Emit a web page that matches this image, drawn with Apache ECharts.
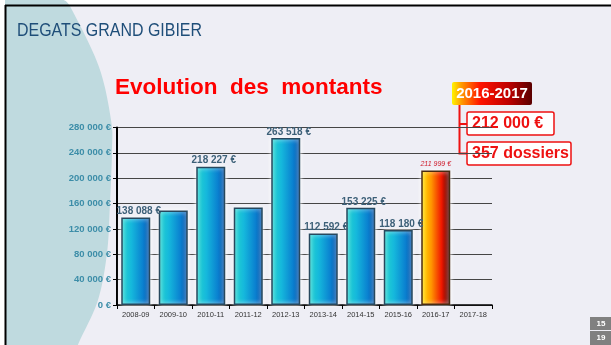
<!DOCTYPE html>
<html>
<head>
<meta charset="utf-8">
<script src="https://cdn.jsdelivr.net/npm/echarts@6/dist/echarts.min.js"></script>
<style>
  html, body { margin: 0; padding: 0; background: #ffffff; }
  #chart { width: 611px; height: 345px; }
</style>
</head>
<body>
<div id="chart"></div>
<script>
// Seasons and damage amounts (€)
const seasons = ['2008-09', '2009-10', '2010-11', '2011-12', '2012-13', '2013-14', '2014-15', '2015-16', '2016-17', '2017-18'];
const amounts = [138088, 149000, 218227, 154000, 263518, 112592, 153225, 118180, 211999, null];
const labelledSeasons = ['2008-09', '2010-11', '2012-13', '2013-14', '2014-15', '2015-16', '2016-17'];
const currentSeason = '2016-17';

// Y axis ticks (€)
const yTicks = [0, 40000, 80000, 120000, 160000, 200000, 240000, 280000];

// Callout texts
const slideTitle = 'DEGATS GRAND GIBIER';
const chartTitle = 'Evolution  des  montants';
const calloutTitle = '2016-2017';
const calloutLines = ['212 000 €', '357 dossiers'];
const pageNumbers = ['15', '19'];

function euro(v) {
  return String(v).replace(/\B(?=(\d{3})+(?!\d))/g, ' ') + ' €';
}

const blueFill = new echarts.graphic.LinearGradient(0, 0, 1, 0, [
  { offset: 0, color: '#25D6CE' },
  { offset: 0.35, color: '#15B8DC' },
  { offset: 0.75, color: '#0A80D0' },
  { offset: 1, color: '#004AA2' }
]);
const fireFill = new echarts.graphic.LinearGradient(0, 0, 1, 0, [
  { offset: 0, color: '#FFE600' },
  { offset: 0.35, color: '#FF9400' },
  { offset: 0.7, color: '#F01800' },
  { offset: 1, color: '#3A0000' }
]);

const barData = amounts.map(function (v, i) {
  const s = seasons[i];
  const isCurrent = s === currentSeason;
  const item = {
    value: v,
    itemStyle: { color: isCurrent ? fireFill : blueFill, borderColor: isCurrent ? '#4A2A10' : '#27485E' },
    label: { show: v !== null && labelledSeasons.indexOf(s) >= 0 }
  };
  if (isCurrent) {
    item.label.fontStyle = 'italic';
    item.label.fontWeight = 'normal';
    item.label.fontSize = 7;
    item.label.color = '#D0202E';
    item.label.distance = 3;
    item.label.offset = [0, 0];
  }
  return item;
});

// Left decorative band edge, traced with a Catmull-Rom spline
const edge = [[64, 0], [72, 10], [99, 67], [111, 120], [112, 150], [110, 203], [107, 253], [98, 300], [80, 340], [76, 350]];
function spline(pts) {
  const out = [];
  for (let i = 0; i < pts.length - 1; i++) {
    const p0 = pts[Math.max(0, i - 1)], p1 = pts[i], p2 = pts[i + 1], p3 = pts[Math.min(pts.length - 1, i + 2)];
    for (let t = 0; t < 1; t += 0.1) {
      const t2 = t * t, t3 = t2 * t;
      const f = function (a, b, c, d) {
        return 0.5 * ((2 * b) + (-a + c) * t + (2 * a - 5 * b + 4 * c - d) * t2 + (-a + 3 * b - 3 * c + d) * t3);
      };
      out.push([f(p0[0], p1[0], p2[0], p3[0]), f(p0[1], p1[1], p2[1], p3[1])]);
    }
  }
  out.push(pts[pts.length - 1]);
  return out;
}
const bandPoints = [[0, 0]].concat(spline(edge), [[0, 350]]);

const chart = echarts.init(document.getElementById('chart'), null, { renderer: 'canvas' });

chart.setOption({
  backgroundColor: '#ffffff',
  animation: false,
  grid: { left: 117, right: 119, top: 127.5, bottom: 40, containLabel: false },
  xAxis: {
    type: 'category',
    data: seasons,
    boundaryGap: true,
    axisLine: { show: true, lineStyle: { color: '#000000', width: 1.5 } },
    axisTick: { show: true, length: 4, lineStyle: { color: '#000000' } },
    axisLabel: { color: '#333333', fontSize: 7.5, fontFamily: 'Liberation Sans, Arial, sans-serif', margin: 6 },
    z: 1
  },
  yAxis: {
    type: 'value',
    min: yTicks[0],
    max: yTicks[yTicks.length - 1],
    interval: yTicks[1] - yTicks[0],
    axisLine: { show: true, lineStyle: { color: '#000000', width: 2 } },
    axisTick: { show: true, length: 4, lineStyle: { color: '#000000' } },
    axisLabel: {
      color: '#3C8DA8', fontSize: 9.5, fontWeight: 'bold', margin: 6,
      fontFamily: 'Liberation Sans, Arial, sans-serif',
      formatter: function (v) { return euro(v); }
    },
    splitLine: { show: true, lineStyle: { color: '#454545', width: 1 } },
    z: 1
  },
  series: [{
    type: 'bar',
    data: barData,
    barWidth: 29,
    itemStyle: {
      borderWidth: 1.5,
      shadowColor: 'rgba(255,255,255,0.95)',
      shadowBlur: 4
    },
    label: {
      position: 'top',
      distance: 1,
      offset: [3, 0],
      color: '#3D6078',
      fontSize: 10,
      fontWeight: 'bold',
      fontFamily: 'Liberation Sans, Arial, sans-serif',
      formatter: function (p) { return euro(p.value); }
    },
    z: 3
  }],
  graphic: [
    // slide background and frame
    { type: 'rect', z: -10, silent: true, shape: { x: 5, y: 5, width: 606, height: 340 }, style: { fill: '#EEEEF5' } },
    { type: 'polygon', z: -9, silent: true, shape: { points: bandPoints }, style: { fill: '#BFDADF' } },
    { type: 'rect', z: -8, silent: true, shape: { x: 0, y: 0, width: 5, height: 345 }, style: { fill: '#ffffff' } },
    { type: 'line', z: 10, silent: true, shape: { x1: 5.5, y1: 5, x2: 5.5, y2: 345 }, style: { stroke: '#000000', lineWidth: 2 } },
    { type: 'line', z: 10, silent: true, shape: { x1: 5, y1: 5.5, x2: 611, y2: 5.5 }, style: { stroke: '#000000', lineWidth: 2 } },
    // titles
    { type: 'text', z: 5, x: 17, y: 31, scaleX: 0.84, style: { text: slideTitle, verticalAlign: 'middle', fill: '#1F4E79', font: '19px "Liberation Sans", sans-serif' } },
    { type: 'text', z: 5, style: { text: chartTitle, x: 115, y: 88, verticalAlign: 'middle', fill: '#FF0000', font: 'bold 22.5px "Liberation Sans", Arial, sans-serif' } },
    // season callout
    { type: 'rect', z: -2, shape: { x: 452, y: 82, width: 80, height: 23, r: 2 },
      style: { fill: new echarts.graphic.LinearGradient(0, 0, 1, 0, [
        { offset: 0, color: '#FFF500' }, { offset: 0.12, color: '#FF9A00' },
        { offset: 0.35, color: '#FF1400' }, { offset: 0.7, color: '#C00000' }, { offset: 1, color: '#5A0000' }]) } },
    { type: 'text', z: -1, style: { text: calloutTitle, x: 492, y: 94, align: 'center', verticalAlign: 'middle', fill: '#ffffff', font: 'bold 15px "Liberation Sans", Arial, sans-serif' } },
    { type: 'polyline', z: -2, shape: { points: [[459.5, 105], [459.5, 153.5], [467, 153.5]] }, style: { stroke: '#EE1111', lineWidth: 2, fill: null } },
    { type: 'line', z: -2, shape: { x1: 459.5, y1: 124, x2: 467, y2: 124 }, style: { stroke: '#EE1111', lineWidth: 2 } },
    { type: 'rect', z: -2, shape: { x: 467, y: 112, width: 87, height: 23, r: 2 }, style: { fill: '#ffffff', stroke: '#EE1111', lineWidth: 1.5 } },
    { type: 'text', z: -1, style: { text: calloutLines[0], x: 472, y: 124, verticalAlign: 'middle', fill: '#EE1111', font: 'bold 16px "Liberation Sans", Arial, sans-serif' } },
    { type: 'rect', z: -2, shape: { x: 467, y: 142, width: 104, height: 23, r: 2 }, style: { fill: '#ffffff', stroke: '#EE1111', lineWidth: 1.5 } },
    { type: 'text', z: -1, style: { text: calloutLines[1], x: 472, y: 154, verticalAlign: 'middle', fill: '#EE1111', font: 'bold 16px "Liberation Sans", Arial, sans-serif' } },
    // page numbers
    { type: 'rect', z: 5, shape: { x: 590, y: 317, width: 21, height: 13 }, style: { fill: '#808080' } },
    { type: 'rect', z: 5, shape: { x: 590, y: 331, width: 21, height: 14 }, style: { fill: '#808080' } },
    { type: 'text', z: 6, style: { text: pageNumbers[0], x: 601, y: 324, align: 'center', verticalAlign: 'middle', fill: '#ffffff', font: 'bold 8px "Liberation Sans", Arial, sans-serif' } },
    { type: 'text', z: 6, style: { text: pageNumbers[1], x: 601, y: 338, align: 'center', verticalAlign: 'middle', fill: '#ffffff', font: 'bold 8px "Liberation Sans", Arial, sans-serif' } }
  ]
});
</script>
</body>
</html>
